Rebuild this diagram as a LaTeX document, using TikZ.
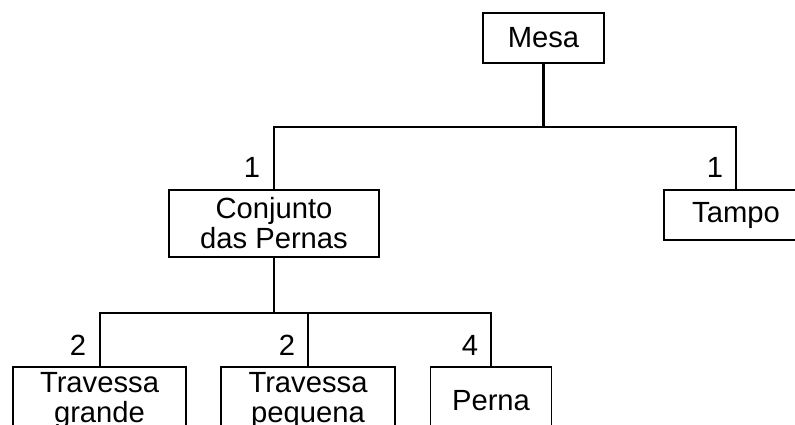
\documentclass[tikz,border=0pt]{standalone}
\usepackage{fontspec}
\setmainfont{Liberation Sans}

\begin{document}
\begin{tikzpicture}[x=1pt, y=-1pt]
            \useasboundingbox (0, 0) rectangle (795, 425);
            \clip (0, 0) rectangle (795, 425);

            {
                \tikzset{
                    peca/.style = {draw, line width=1.6pt, rectangle, inner sep=0pt,
                        align=center, font=\fontsize{29.2}{30}\selectfont},
                    qtd/.style = {inner sep=0pt, font=\fontsize{29.2}{30}\selectfont}
                }

                % the parts, from the top
                \node[peca, minimum width=121pt, minimum height=50pt] (mesa) at (543.5, 38) {Mesa};
                \node[peca, minimum width=210pt, minimum height=67pt] (conj) at (274, 223.5) {Conjunto\\das Pernas};
                \node[peca, minimum width=144pt, minimum height=50pt] (tampo) at (736, 215) {Tampo};
                \node[peca, minimum width=173pt, minimum height=67pt] (tg) at (99.5, 400.5) {Travessa\\grande};
                \node[peca, minimum width=174pt, minimum height=67pt] (tp) at (308, 400.5) {Travessa\\pequena};
                \node[peca, minimum width=121pt, minimum height=67pt] (perna) at (491, 400.5) {Perna};

                % quantities
                \node[qtd] (q1) at (252, 167) {1};
                \node[qtd] (q2) at (715, 167) {1};
                \node[qtd] (q3) at (78, 345) {2};
                \node[qtd] (q4) at (287, 345) {2};
                \node[qtd] (q5) at (470, 345) {4};
            }

            \coordinate (j1) at (543.5, 127);
            \coordinate (j2) at (274, 312.5);

            % branches
            \draw[line width=3pt] (mesa.south) -- (j1);
            \draw[line width=2pt] (conj.north) |- (j1) -| (tampo.north);
            \draw[line width=2pt] (conj.south) -- (j2);
            \draw[line width=2pt] (tg.north) |- (j2) -| (perna.north);
            \draw[line width=2pt] (tp.north) -- (tp.north |- j2);

        \end{tikzpicture}
\end{document}
